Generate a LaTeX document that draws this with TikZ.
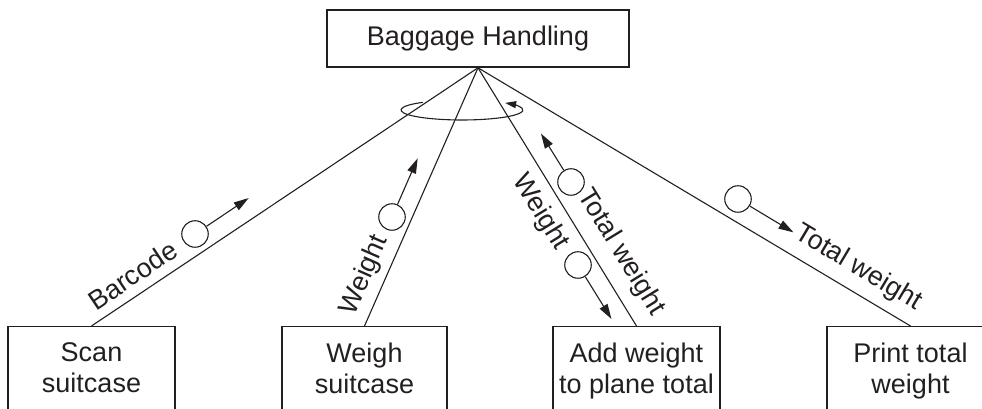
\documentclass[tikz,border=0pt]{standalone}
\usepackage{fontspec}
\setmainfont{Liberation Sans}
\usetikzlibrary{arrows.meta,calc}
\definecolor{ink}{RGB}{35,31,32}
% a zero-width strut that lets the lower boxes run off the page
\newcommand{\boxtail}{\rule[-90pt]{0pt}{90pt}}
\begin{document}
\begin{tikzpicture}[x=1pt,y=1pt,
  every node/.style={font=\fontsize{27}{31}\selectfont, text=ink},
  proc/.style={draw=ink, line width=1.2pt, rectangle, align=center,
    inner xsep=3pt, inner ysep=16.5pt, minimum width=167pt, anchor=north},
  link/.style={draw=ink, line width=1.1pt},
  lab/.style={sloped, inner sep=0pt},
  couple/.style={circle, draw=ink, line width=1.1pt, minimum size=26.5pt, inner sep=0pt},
  flow/.style={draw=ink, line width=1.1pt, -{Triangle[length=15pt,width=9pt]}},
  loopflow/.style={draw=ink, line width=1.1pt, -{Triangle[length=11pt,width=7pt]}},
]
\useasboundingbox (0,0) rectangle (982,409);
\clip (0,0) rectangle (982,409);

% parent module
\node[draw=ink, line width=1.6pt, minimum width=302pt, minimum height=57pt,
      inner sep=0pt] (top) at (478,370.5) {Baggage Handling};

% child modules
\node[proc] (scan)  at (91.5,83)  {Scan\\suitcase\boxtail};
\node[proc, minimum width=165pt] (weigh) at (364.5,83) {Weigh\\suitcase\boxtail};
\node[proc] (add)   at (636.5,83) {Add weight\\to plane total\boxtail};
\node[proc] (print) at (910.5,83) {Print total\\weight\boxtail};

% calls with their data labels
\draw[link] (scan.north) -- node[lab, above=9pt, pos=0.134] (lbarcode) {Barcode} (top.south);
\draw[link] (weigh.north) -- node[lab, above=7pt, pos=0.165] (lweight) {Weight} (top.south);
\draw[link] (top.south) -- node[lab, below=9pt, pos=0.514] (lweightin) {Weight}
                          node[lab, above=12pt, pos=0.765] (ltotalout) {Total weight} (add.north);
\draw[link] (top.south) -- node[lab, above=10pt, pos=0.852] (ltotalin) {Total weight} (print.north);

% data couples
\node[couple] (c1) at (195,175) {};
\coordinate (t1) at ($(c1)+(33.8:64.6)$);
\draw[flow] (c1) -- (t1);

\node[couple] (c2) at (392,192) {};
\coordinate (t2) at ($(c2)+(66.35:64)$);
\draw[flow] (c2) -- (t2);

\node[couple] (c3) at (571,227) {};
\coordinate (t3) at ($(c3)+(121.8:57)$);
\draw[flow] (c3) -- (t3);

\node[couple] (c4) at (578,144) {};
\coordinate (t4) at ($(c4)+(-58.2:63.5)$);
\draw[flow] (c4) -- (t4);

\node[couple] (c5) at (738,210) {};
\coordinate (t5) at ($(c5)+(-31:64.7)$);
\draw[flow] (c5) -- (t5);

% iteration loop around the calls
\coordinate (loopc) at (462,299);
\draw[loopflow] ($(loopc)+(130:61 and 10)$)
  arc[start angle=130, end angle=405, x radius=61, y radius=10];
\end{tikzpicture}
\end{document}
